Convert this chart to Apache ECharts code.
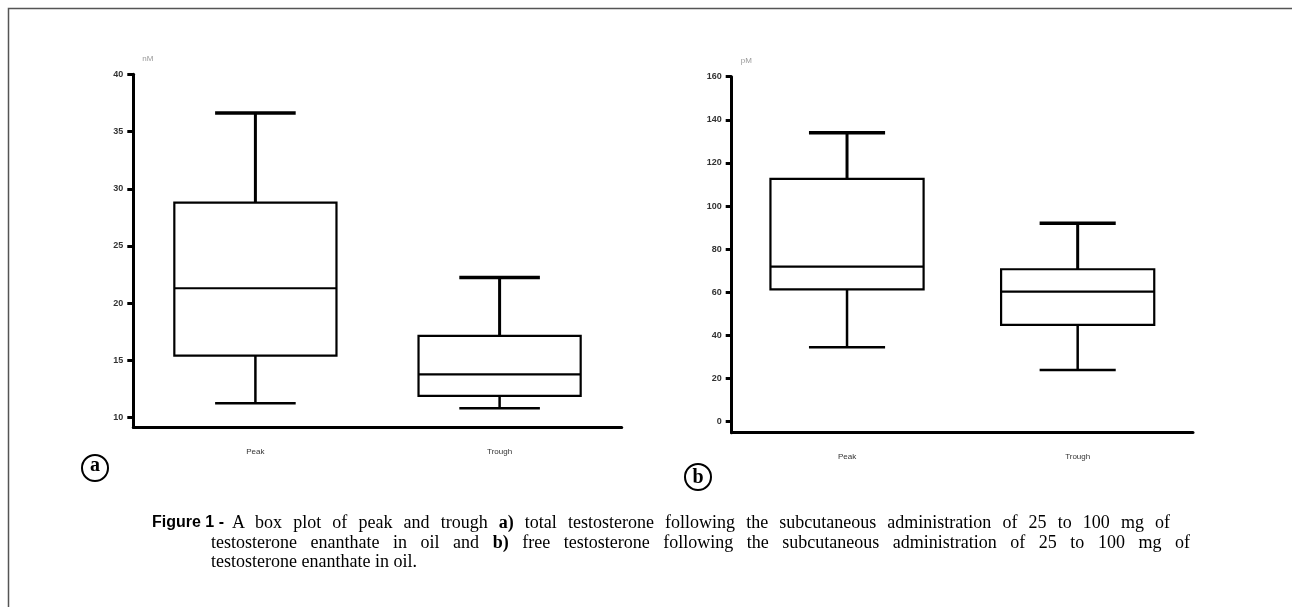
<!DOCTYPE html>
<html>
<head>
<meta charset="utf-8">
<script src="https://cdn.jsdelivr.net/npm/echarts@6/dist/echarts.min.js"></script>
<style>
html,body{margin:0;padding:0;background:#fff;}
#wrap{position:relative;width:1292px;height:607px;}
#chart{width:1292px;height:607px;}
.cap{position:absolute;font-family:'Liberation Serif',serif;font-size:18px;line-height:20px;color:#000;white-space:nowrap;}
.just{text-align:justify;text-align-last:justify;white-space:normal;}
.fig{font-family:'Liberation Sans',sans-serif;font-weight:900;font-size:16px;}
</style>
</head>
<body>
<div id="wrap">
<div id="chart"></div>
<div class="cap fig" id="capFig" style="left:152px;top:512px;"></div>
<div class="cap just" id="cap1" style="left:232px;top:512px;width:938px;"></div>
<div class="cap just" id="cap2" style="left:211px;top:532px;width:979px;"></div>
<div class="cap" id="cap3" style="left:211px;top:551px;"></div>
</div>
<script>
// ---- data ----
const categories = ['Peak', 'Trough'];
// [low whisker, Q1, median, Q3, high whisker]
const totalPeak   = [11.26, 15.42, 21.31, 28.79, 36.61];
const totalTrough = [10.82, 11.9, 13.79, 17.14, 22.24];
const freePeak    = [34.5, 61.4, 71.9, 112.6, 134.0];
const freeTrough  = [24.0, 44.9, 60.3, 70.7, 92.0];
const ticksA = [10, 15, 20, 25, 30, 35, 40];
const ticksB = [0, 20, 40, 60, 80, 100, 120, 140, 160];
const unitA = 'nM';
const unitB = 'pM';
const captionFig = 'Figure 1 -';
const captionLine1 = 'A box plot of peak and trough <b>a)</b> total testosterone following the subcutaneous administration of 25 to 100 mg of';
const captionLine2 = 'testosterone enanthate in oil and <b>b)</b> free testosterone following the subcutaneous administration of 25 to 100 mg of';
const captionLine3 = 'testosterone enanthate in oil.';

document.getElementById('capFig').textContent = captionFig;
document.getElementById('cap1').innerHTML = captionLine1;
document.getElementById('cap2').innerHTML = captionLine2;
document.getElementById('cap3').textContent = captionLine3;

const chart = echarts.init(document.getElementById('chart'));

function renderBox(params, api) {
  const xi = api.value(0);
  const lo = api.coord([xi, api.value(1)]);
  const q1 = api.coord([xi, api.value(2)]);
  const md = api.coord([xi, api.value(3)]);
  const q3 = api.coord([xi, api.value(4)]);
  const hi = api.coord([xi, api.value(5)]);
  const band = api.size([1, 0])[0];
  const bw = band * 0.664, cw = band * 0.33;
  const x = md[0];
  const st = (w) => ({ stroke: '#000', lineWidth: w, fill: null });
  return {
    type: 'group',
    children: [
      { type: 'line', shape: { x1: x, y1: q3[1], x2: x, y2: hi[1] }, style: st(3) },
      { type: 'line', shape: { x1: x, y1: q1[1], x2: x, y2: lo[1] }, style: st(2.5) },
      { type: 'line', shape: { x1: x - cw / 2, y1: hi[1], x2: x + cw / 2, y2: hi[1] }, style: st(3.5) },
      { type: 'line', shape: { x1: x - cw / 2, y1: lo[1], x2: x + cw / 2, y2: lo[1] }, style: st(2.5) },
      { type: 'rect', shape: { x: x - bw / 2, y: q3[1], width: bw, height: q1[1] - q3[1] },
        style: { stroke: '#000', lineWidth: 2.2, fill: '#fff' } },
      { type: 'line', shape: { x1: x - bw / 2, y1: md[1], x2: x + bw / 2, y2: md[1] }, style: st(2.2) }
    ]
  };
}

function yAxisCfg(gridIndex, min, max, ticks, unit) {
  return {
    type: 'value', gridIndex, min, max,
    name: unit, nameLocation: 'end', nameGap: 12,
    nameTextStyle: { fontSize: 8, color: '#999', align: 'left', padding: [0, 0, 0, 9] },
    axisLine: { show: true, lineStyle: { color: '#000', width: 3 } },
    axisTick: { show: true, length: 6, customValues: ticks, lineStyle: { color: '#000', width: 3 } },
    axisLabel: { fontSize: 9, color: '#333', fontWeight: 'bold', margin: 10, customValues: ticks,
      fontFamily: 'Liberation Sans' },
    splitLine: { show: false }
  };
}
function xAxisCfg(gridIndex) {
  return {
    type: 'category', gridIndex, data: categories,
    axisLine: { onZero: false, lineStyle: { color: '#000', width: 3 } },
    axisTick: { show: false },
    axisLabel: { fontSize: 8, color: '#333', margin: 20, fontFamily: 'Liberation Sans' },
    splitLine: { show: false }
  };
}

const serif = 'Liberation Serif';

chart.setOption({
  animation: false,
  backgroundColor: '#fff',
  grid: [
    { left: 133.3, top: 74.3, width: 488.4, height: 353 },
    { left: 731.7, top: 76.7, width: 461.3, height: 356 }
  ],
  xAxis: [xAxisCfg(0), xAxisCfg(1)],
  yAxis: [
    yAxisCfg(0, 9.16, 40, ticksA, unitA),
    yAxisCfg(1, -5.1, 160, ticksB, unitB)
  ],
  series: [
    { type: 'custom', xAxisIndex: 0, yAxisIndex: 0, renderItem: renderBox, clip: false,
      encode: { x: 0, y: [1, 2, 3, 4, 5] },
      data: [[0, ...totalPeak], [1, ...totalTrough]] },
    { type: 'custom', xAxisIndex: 1, yAxisIndex: 1, renderItem: renderBox, clip: false,
      encode: { x: 0, y: [1, 2, 3, 4, 5] },
      data: [[0, ...freePeak], [1, ...freeTrough]] }
  ],
  graphic: [
    { type: 'polyline', shape: { points: [[8.5, 607], [8.5, 8.5], [1292, 8.5]] },
      style: { stroke: '#555', lineWidth: 1.5, fill: null } },
    { type: 'circle', shape: { cx: 95, cy: 468, r: 13 }, style: { stroke: '#000', lineWidth: 2, fill: null } },
    { type: 'text', x: 95, y: 466, style: { text: 'a', fontFamily: serif, fontWeight: 'bold', fontSize: 20,
      align: 'center', verticalAlign: 'middle', fill: '#000' } },
    { type: 'circle', shape: { cx: 698, cy: 477, r: 13 }, style: { stroke: '#000', lineWidth: 2, fill: null } },
    { type: 'text', x: 698, y: 478, style: { text: 'b', fontFamily: serif, fontWeight: 'bold', fontSize: 20,
      align: 'center', verticalAlign: 'middle', fill: '#000' } }
  ]
});
</script>
</body>
</html>
